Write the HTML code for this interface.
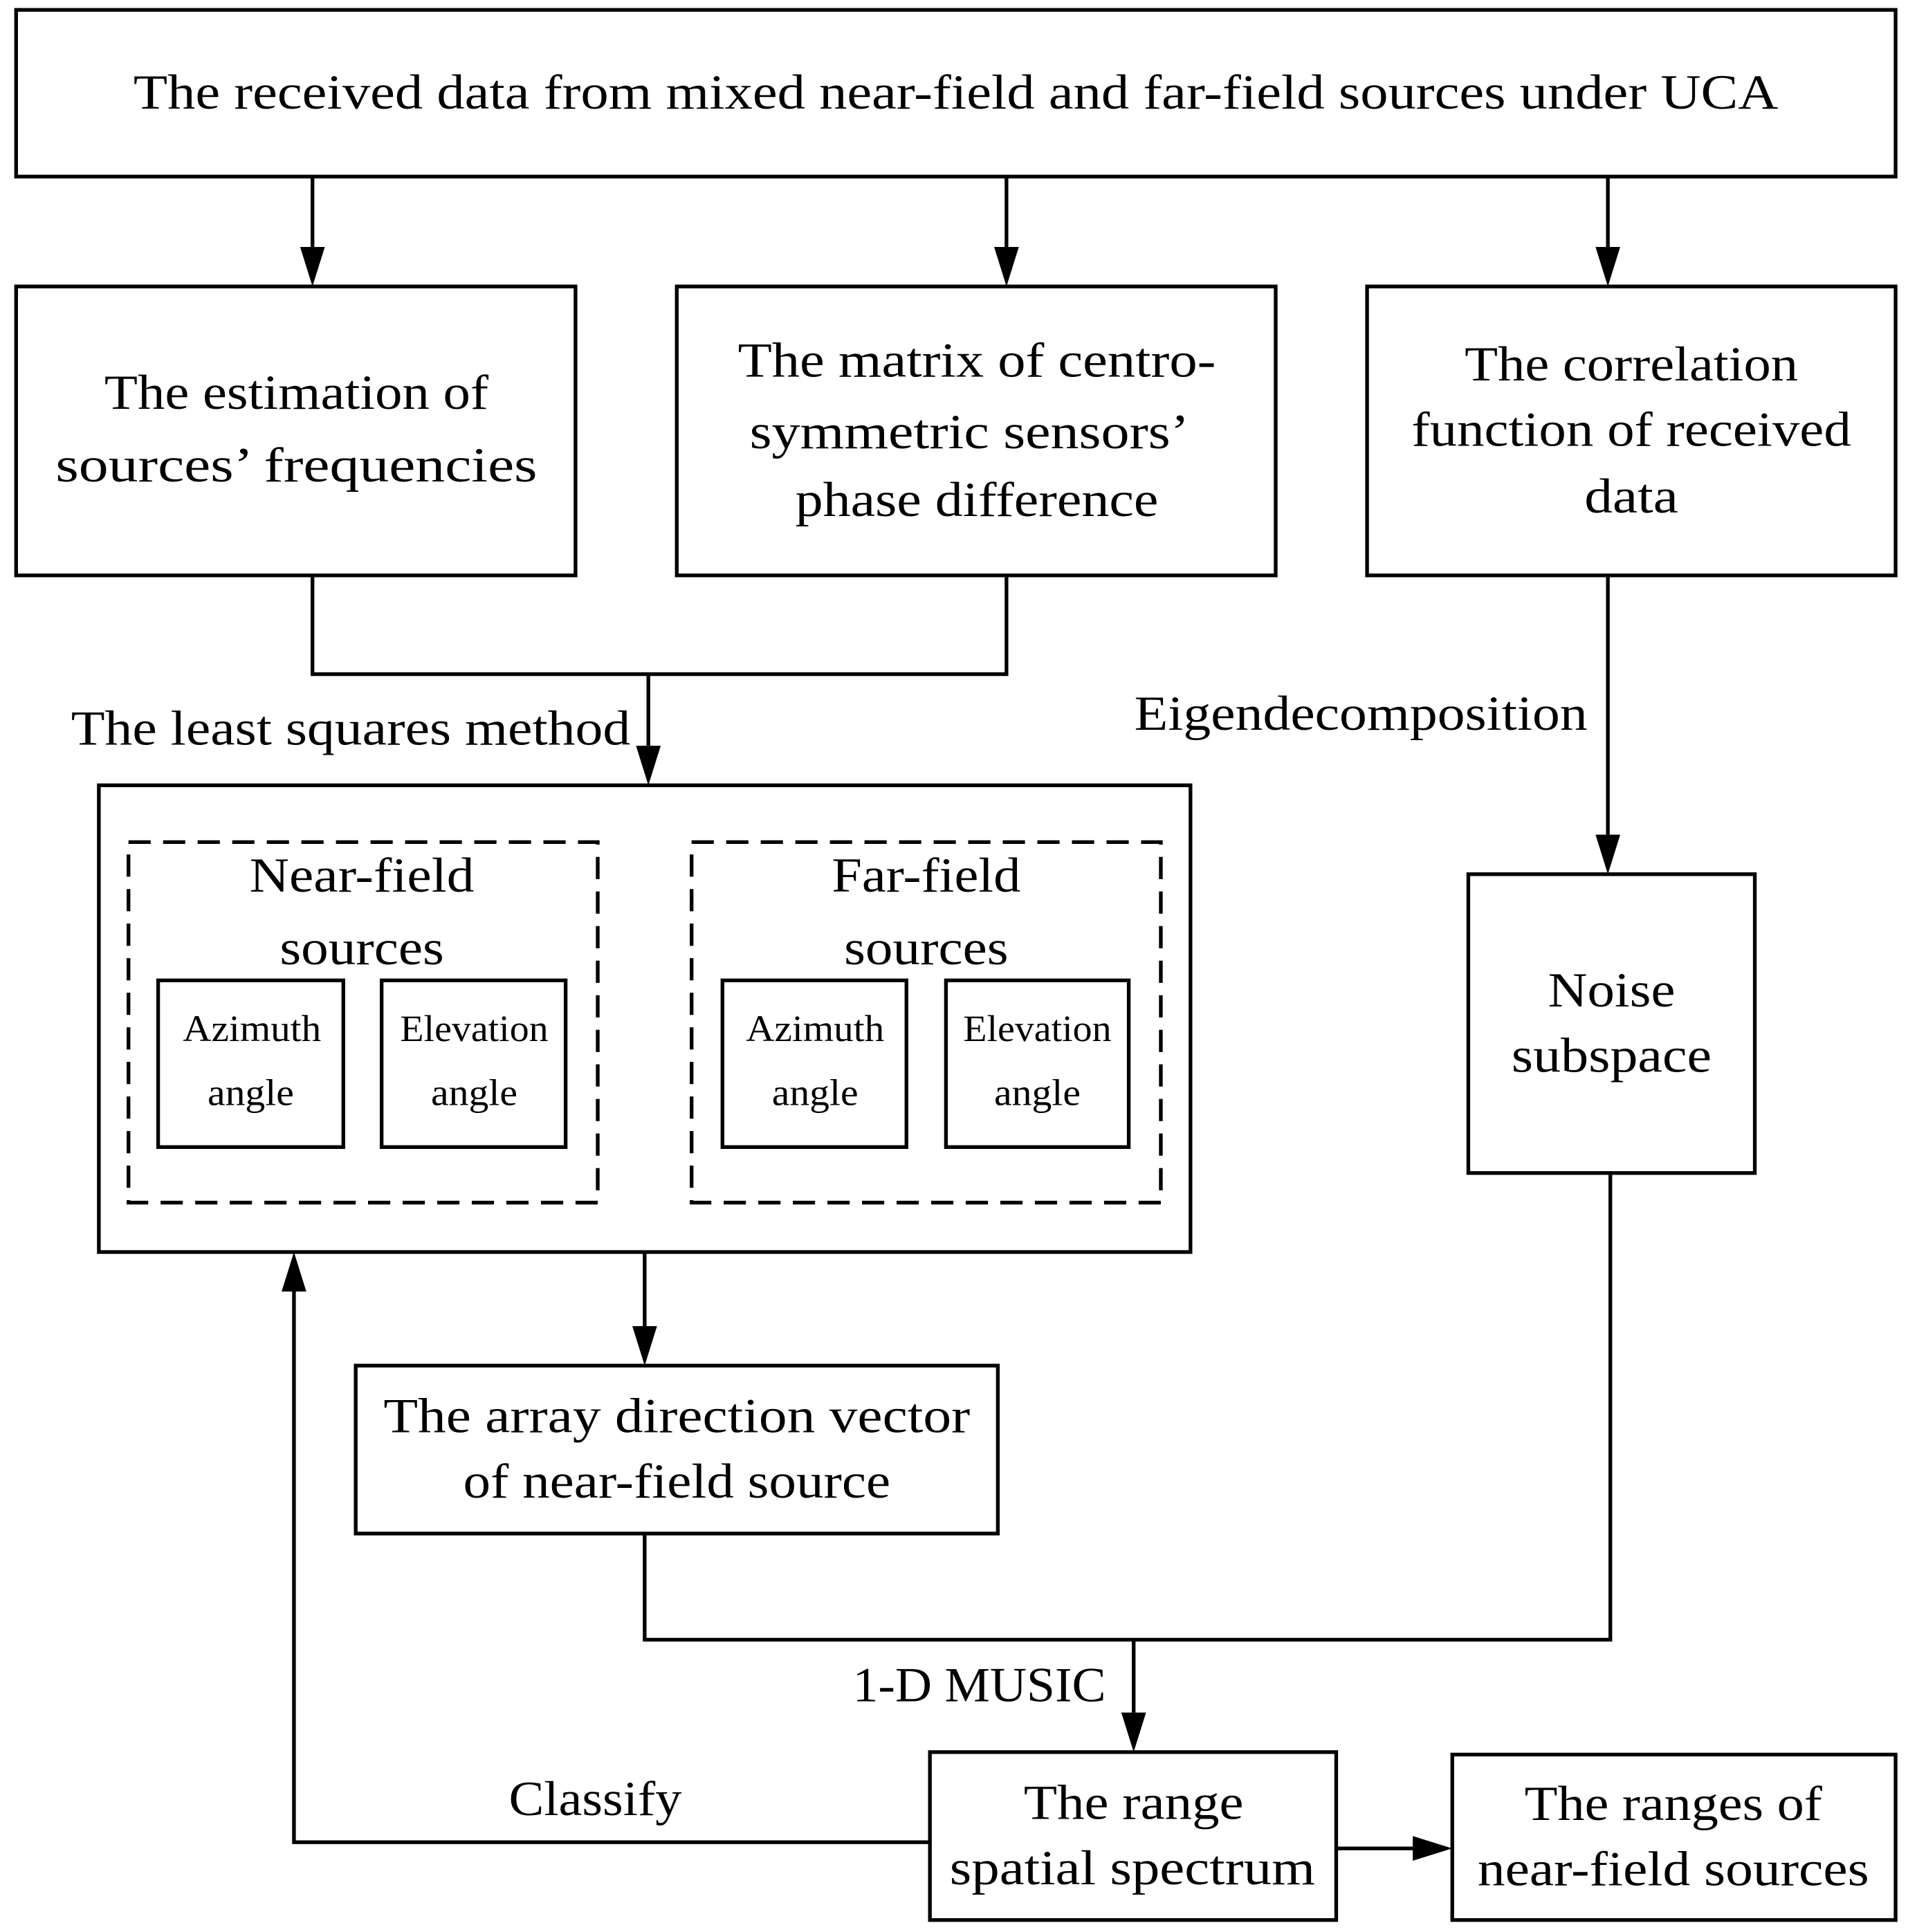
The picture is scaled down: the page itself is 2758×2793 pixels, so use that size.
<!DOCTYPE html>
<html><head><meta charset="utf-8"><style>html,body{margin:0;padding:0;background:#fff}svg{display:block}</style></head>
<body>
<svg width="2758" height="2793" viewBox="0 0 1545 1564.7" xmlns="http://www.w3.org/2000/svg">
<g fill="none" stroke="#000" stroke-width="3">
<rect x="13" y="8" width="1522" height="135"/>
<rect x="13" y="232" width="453" height="234"/>
<rect x="548" y="232" width="485" height="234"/>
<rect x="1107" y="232" width="428" height="234"/>
<rect x="80" y="636" width="884" height="378"/>
<rect x="104" y="682" width="380" height="292" stroke-dasharray="18,10"/>
<rect x="560" y="682" width="380" height="292" stroke-dasharray="18,10"/>
<rect x="128" y="794" width="150" height="135"/>
<rect x="309" y="794" width="149" height="135"/>
<rect x="585" y="794" width="149" height="135"/>
<rect x="766" y="794" width="148" height="135"/>
<rect x="1189" y="708" width="232" height="242"/>
<rect x="288" y="1106" width="520" height="136"/>
<rect x="753" y="1419" width="329" height="136"/>
<rect x="1176" y="1421" width="359" height="134"/>
<polyline points="253,466 253,546 815,546 815,466"/>
<polyline points="522,1242 522,1328 1304,1328 1304,950"/>
<polyline points="753,1492 238,1492 238,1045"/>
<line x1="253" y1="143" x2="253" y2="200"/>
<line x1="815" y1="143" x2="815" y2="200"/>
<line x1="1302" y1="143" x2="1302" y2="200"/>
<line x1="525" y1="546" x2="525" y2="604"/>
<line x1="1302" y1="466" x2="1302" y2="676"/>
<line x1="522" y1="1014" x2="522" y2="1074"/>
<line x1="918" y1="1328" x2="918" y2="1387"/>
<line x1="1082" y1="1497" x2="1144" y2="1497"/>
</g>
<g fill="#000">
<path d="M243,200 L263,200 L253,232 z"/>
<path d="M805,200 L825,200 L815,232 z"/>
<path d="M1292,200 L1312,200 L1302,232 z"/>
<path d="M515,604 L535,604 L525,636 z"/>
<path d="M1292,676 L1312,676 L1302,708 z"/>
<path d="M512,1074 L532,1074 L522,1106 z"/>
<path d="M908,1387 L928,1387 L918,1419 z"/>
<path d="M1144,1487 L1144,1507 L1176,1497 z"/>
<path d="M228,1046 L248,1046 L238,1014 z"/>
</g>
<g font-family="Liberation Serif, serif" font-size="40" text-anchor="middle" fill="#000" lengthAdjust="spacingAndGlyphs">
<text x="774" y="88" textLength="1332" lengthAdjust="spacingAndGlyphs">The received  data from mixed near-field and far-field sources under UCA</text>
<text x="240" y="331" textLength="311" lengthAdjust="spacingAndGlyphs">The estimation of</text>
<text x="240" y="390" textLength="390" lengthAdjust="spacingAndGlyphs">sources’   frequencies</text>
<text x="791" y="305" textLength="387" lengthAdjust="spacingAndGlyphs">The matrix  of centro-</text>
<text x="785" y="363" textLength="356" lengthAdjust="spacingAndGlyphs">symmetric sensors’</text>
<text x="791" y="418" textLength="294" lengthAdjust="spacingAndGlyphs">phase difference</text>
<text x="1321" y="308" textLength="270" lengthAdjust="spacingAndGlyphs">The correlation</text>
<text x="1321" y="361" textLength="356" lengthAdjust="spacingAndGlyphs">function of received</text>
<text x="1321" y="415" textLength="76" lengthAdjust="spacingAndGlyphs">data</text>
<text x="284" y="603" textLength="453" lengthAdjust="spacingAndGlyphs">The least squares method</text>
<text x="1102" y="591" textLength="367" lengthAdjust="spacingAndGlyphs">Eigendecomposition</text>
<text x="293" y="722" textLength="182" lengthAdjust="spacingAndGlyphs">Near-field</text>
<text x="293" y="781" textLength="133" lengthAdjust="spacingAndGlyphs">sources</text>
<text x="750" y="722" textLength="153" lengthAdjust="spacingAndGlyphs">Far-field</text>
<text x="750" y="781" textLength="133" lengthAdjust="spacingAndGlyphs">sources</text>
<text x="1305" y="815" textLength="103" lengthAdjust="spacingAndGlyphs">Noise</text>
<text x="1305" y="868" textLength="162" lengthAdjust="spacingAndGlyphs">subspace</text>
<text x="548" y="1160" textLength="475" lengthAdjust="spacingAndGlyphs">The  array direction vector</text>
<text x="548" y="1213" textLength="346" lengthAdjust="spacingAndGlyphs">of near-field source</text>
<text x="793" y="1378" textLength="205" lengthAdjust="spacingAndGlyphs">1-D MUSIC</text>
<text x="482" y="1470" textLength="140" lengthAdjust="spacingAndGlyphs">Classify</text>
<text x="918" y="1473" textLength="178" lengthAdjust="spacingAndGlyphs">The range</text>
<text x="917" y="1526" textLength="296" lengthAdjust="spacingAndGlyphs">spatial spectrum</text>
<text x="1355" y="1474" textLength="241" lengthAdjust="spacingAndGlyphs">The ranges of</text>
<text x="1355" y="1527" textLength="317" lengthAdjust="spacingAndGlyphs">near-field sources</text>
</g>
<g font-family="Liberation Serif, serif" font-size="30" text-anchor="middle" fill="#000">
<text x="204" y="843" textLength="112" lengthAdjust="spacingAndGlyphs">Azimuth</text><text x="203" y="895" textLength="70" lengthAdjust="spacingAndGlyphs">angle</text>
<text x="384" y="843" textLength="120" lengthAdjust="spacingAndGlyphs">Elevation</text><text x="384" y="895" textLength="70" lengthAdjust="spacingAndGlyphs">angle</text>
<text x="660" y="843" textLength="112" lengthAdjust="spacingAndGlyphs">Azimuth</text><text x="660" y="895" textLength="70" lengthAdjust="spacingAndGlyphs">angle</text>
<text x="840" y="843" textLength="120" lengthAdjust="spacingAndGlyphs">Elevation</text><text x="840" y="895" textLength="70" lengthAdjust="spacingAndGlyphs">angle</text>
</g>
</svg>
</body></html>
